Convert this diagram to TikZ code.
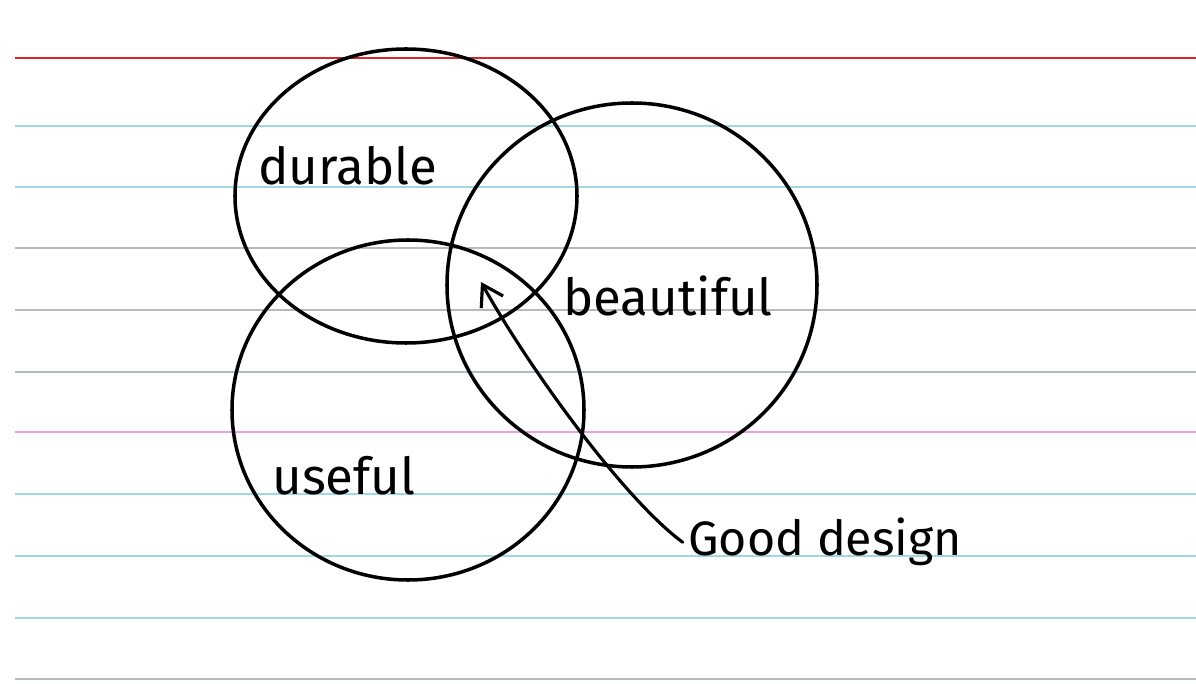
\documentclass[tikz,border=0pt]{standalone}
\usepackage{fontspec}
\setmainfont{Fira Sans}
\usetikzlibrary{arrows.meta, shapes.geometric}

\definecolor{rulecyan}{RGB}{160,215,228}
\definecolor{rulegray}{RGB}{178,186,196}
\definecolor{rulepink}{RGB}{232,160,225}
\definecolor{rulered}{RGB}{215,40,50}

\begin{document}
\begin{tikzpicture}[
  x=0.2mm, y=-0.2mm,
  font=\fontsize{29}{32}\selectfont,
  venn/.style={draw, ellipse, line width=2pt, inner sep=0pt},
  word/.style={inner sep=0pt, anchor=base west},
  rule/.style={line width=0.6pt}
]
  \useasboundingbox (0,0) rectangle (1196,684);
  \fill[white] (0,0) rectangle (1196,684);
  % ruled index card
  \draw[rule, rulered, line width=1.1pt] (15,58) -- (1196,58);
  \foreach \y/\c in {126/rulecyan, 187/rulecyan, 248/rulegray, 310/rulegray, 372/rulegray,
                     432/rulepink, 494/rulecyan, 556/rulecyan, 618/rulecyan, 679/rulegray}
    \draw[rule, \c] (15,\y) -- (1196,\y);
  % the three sets
  \node[venn, minimum width=68.4mm, minimum height=58.8mm] (durable) at (406,196) {};
  \node[venn, minimum width=74mm, minimum height=72.8mm] (beautiful) at (632,285) {};
  \node[venn, minimum width=70.4mm, minimum height=68mm] (useful) at (408,410) {};
  % labels
  \node[word] (ldur) at (258,185) {durable};
  \node[word] (lbea) at (563,316) {beautiful};
  \node[word] (luse) at (272,495) {useful};
  \node[word, font=\fontsize{27.5}{30}\selectfont] (good) at (688,556) {Good design};
  % pointer into the middle
  \coordinate (tip) at (481,282);
  \draw[line width=1.8pt, line cap=round, -{Straight Barb[length=4mm, width=5mm]}]
    ([xshift=-3pt]good.west) .. controls (625,500) and (530,370) .. (tip);
\end{tikzpicture}
\end{document}
